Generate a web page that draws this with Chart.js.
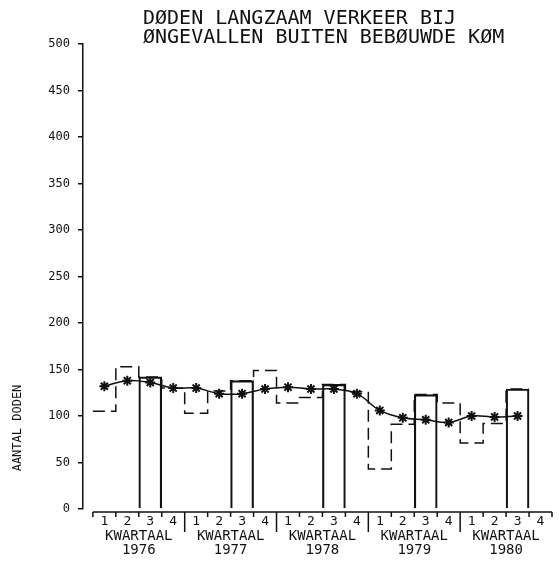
<!DOCTYPE html>
<html>
<head>
<meta charset="utf-8">
<script src="https://cdn.jsdelivr.net/npm/chart.js@4/dist/chart.umd.min.js"></script>
<style>
  html, body { margin: 0; padding: 0; background: #fff; }
  #wrap { width: 559px; height: 562px; }
</style>
</head>
<body>
<div id="wrap"><canvas id="c" width="559" height="562"></canvas></div>
<script>
// Verkeersdoden langzaam verkeer, buiten bebouwde kom, per kwartaal
const years = ['1976', '1977', '1978', '1979', '1980'];
const quarterLabels = ['1', '2', '3', '4'];
// aantal doden per kwartaal, 1976-1 t/m 1980-3 (1980-4 nog niet bekend)
const deaths = [105, 153, 142, 130,  103, 127, 138, 149,  114, 120, 134, 126,  43, 91, 123, 114,  71, 92, 129];
// voortschrijdend gemiddelde per kwartaal
const movingAvg = [132, 138, 136, 130,  130, 124, 124, 129,  131, 129, 129, 124,  106, 98, 96, 93,  100, 99, 100];
const yTicks = [0, 50, 100, 150, 200, 250, 300, 350, 400, 450, 500];
const titleLines = ['DØDEN LANGZAAM VERKEER BIJ', 'ØNGEVALLEN BUITEN BEBØUWDE KØM'];
const yTitle = 'AANTAL DODEN';
const xTitle = 'KWARTAAL';

const quarterCount = years.length * quarterLabels.length;
const quarterIndex = Array.from({ length: quarterCount }, (_, i) => i);

// step outline: one horizontal run across each quarter
const stepPoints = deaths.map((v, i) => ({ x: i - 0.5, y: v }));
stepPoints.push({ x: deaths.length - 0.5, y: deaths[deaths.length - 1] });

// third quarters drawn as closed boxes
const q3Boxes = deaths.map((v, i) => ({ x: i, y: v })).filter(p => p.x % 4 === 2);

const avgPoints = movingAvg.map((v, i) => ({ x: i, y: v }));

const MONO = '"DejaVu Sans Mono", "Liberation Mono", monospace';
const INK = '#111';

const axisDecor = {
  id: 'axisDecor',
  afterDraw(chart) {
    const { ctx } = chart;
    const xs = chart.scales.x;
    const ys = chart.scales.y;
    const base = ys.getPixelForValue(0) + 3;
    ctx.save();
    ctx.strokeStyle = INK;
    ctx.lineWidth = 1.5;
    ctx.beginPath();
    ctx.moveTo(xs.getPixelForValue(-0.5), base);
    ctx.lineTo(xs.getPixelForValue(quarterCount - 0.5), base);
    for (let b = 0; b <= quarterCount; b++) {
      const px = xs.getPixelForValue(b - 0.5);
      const yearEdge = b % 4 === 0 && b > 0 && b < quarterCount;
      ctx.moveTo(px, base);
      ctx.lineTo(px, base + (yearEdge ? 20 : 5));
    }
    ctx.stroke();

    ctx.fillStyle = INK;
    ctx.textAlign = 'center';
    ctx.textBaseline = 'middle';
    ctx.font = '13px ' + MONO;
    quarterIndex.forEach(i => {
      ctx.fillText(quarterLabels[i % 4], xs.getPixelForValue(i), base + 10);
    });
    ctx.font = '14px ' + MONO;
    years.forEach((yr, j) => {
      const cx = xs.getPixelForValue(j * 4 + 1.5);
      ctx.fillText(xTitle, cx, base + 24);
      ctx.fillText(yr, cx, base + 38);
    });

    // titel
    ctx.textAlign = 'left';
    ctx.textBaseline = 'alphabetic';
    ctx.font = '20px ' + MONO;
    ctx.fillText(titleLines[0], 143, 24);
    ctx.fillText(titleLines[1], 143, 43);

    // y-as titel
    ctx.save();
    ctx.translate(18, 428);
    ctx.rotate(-Math.PI / 2);
    ctx.textAlign = 'center';
    ctx.textBaseline = 'middle';
    ctx.font = '12px ' + MONO;
    ctx.fillText(yTitle, 0, 0);
    ctx.restore();
    ctx.restore();
  }
};

new Chart(document.getElementById('c'), {
  data: {
    datasets: [
      {
        type: 'line',
        data: avgPoints,
        borderColor: INK,
        borderWidth: 1.5,
        tension: 0.4,
        pointStyle: 'star',
        pointRadius: 5,
        pointBorderWidth: 2,
        pointBorderColor: INK,
        pointBackgroundColor: INK,
        order: 0
      },
      {
        type: 'bar',
        data: q3Boxes,
        backgroundColor: 'rgba(0,0,0,0)',
        borderColor: INK,
        borderWidth: 1.5,
        borderSkipped: 'bottom',
        barPercentage: 1,
        categoryPercentage: 1,
        order: 1
      },
      {
        type: 'line',
        data: stepPoints,
        stepped: 'before',
        borderColor: INK,
        borderWidth: 1.5,
        borderDash: [12, 6],
        pointRadius: 0,
        order: 2
      }
    ]
  },
  options: {
    responsive: false,
    devicePixelRatio: 1,
    animation: false,
    layout: { padding: { left: 0, top: 44, right: 1, bottom: 53 } },
    plugins: { legend: { display: false }, tooltip: { enabled: false } },
    scales: {
      x: {
        type: 'linear',
        display: false,
        offset: false,
        min: -0.93,
        max: quarterCount - 0.5,
        afterBuildTicks: s => { s.ticks = quarterIndex.map(v => ({ value: v })); }
      },
      y: {
        type: 'linear',
        min: 0,
        max: 500,
        afterFit: s => { s.width = 83; },
        afterBuildTicks: s => { s.ticks = yTicks.map(v => ({ value: v })); },
        ticks: {
          color: INK,
          font: { family: MONO, size: 12 },
          padding: 8
        },
        grid: {
          drawOnChartArea: false,
          drawTicks: true,
          tickLength: 5,
          color: INK,
          lineWidth: 1.5
        },
        border: { display: true, color: INK, width: 1.5 }
      }
    }
  },
  plugins: [axisDecor]
});
</script>
</body>
</html>
